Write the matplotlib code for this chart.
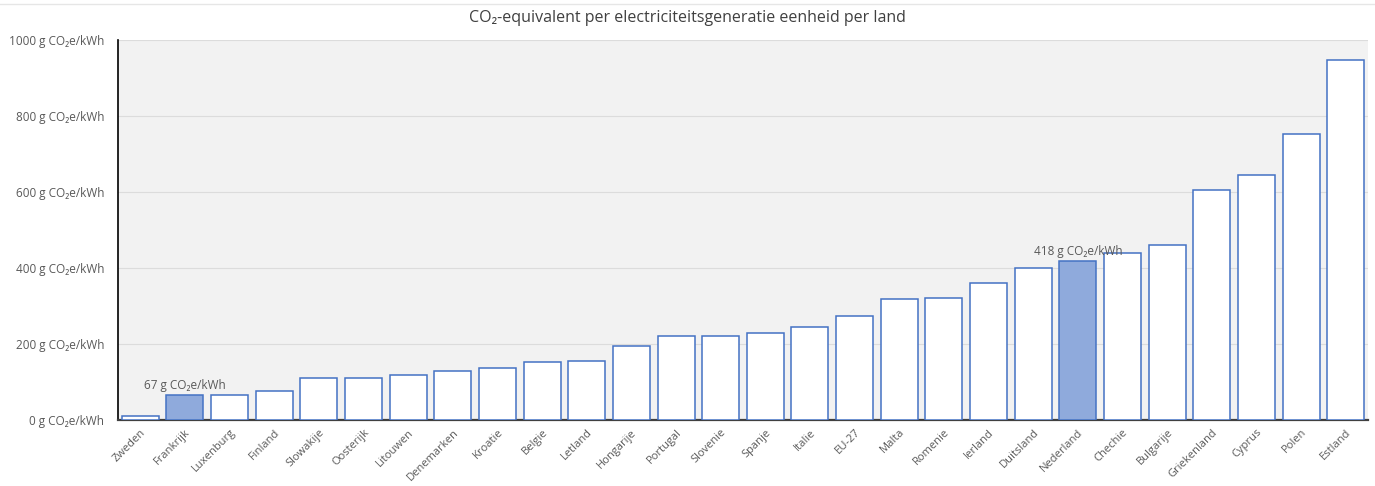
import matplotlib.pyplot as plt
import numpy as np

plt.rcParams['font.family'] = ['Open Sans', 'DejaVu Sans']

landen = ["Zweden", "Frankrijk", "Luxenburg", "Finland", "Slowakije", "Oosterijk",
          "Litouwen", "Denemarken", "Kroatie", "Belgie", "Letland", "Hongarije",
          "Portugal", "Slovenie", "Spanje", "Italie", "EU-27", "Malta", "Romenie",
          "Ierland", "Duitsland", "Nederland", "Chechie", "Bulgarije", "Griekenland",
          "Cyprus", "Polen", "Estland"]
co2 = [10, 67, 65, 77, 110, 110, 119, 129, 137, 153, 155, 195, 221, 221, 229,
       245, 274, 318, 321, 360, 400, 418, 440, 461, 605, 645, 753, 947]
gemarkeerd = ["Frankrijk", "Nederland"]
yticks = [0, 200, 400, 600, 800, 1000]

fig = plt.figure(figsize=(13.75, 4.86), dpi=100)
ax = fig.add_axes([118/1375, 1 - 420/486, 1250/1375, 380/486])
ax.set_facecolor('#f2f2f2')

x = np.arange(len(landen))
kleuren = ['#8faadc' if l in gemarkeerd else 'white' for l in landen]
ax.bar(x, co2, width=0.83, color=kleuren, edgecolor='#4472c4', linewidth=1.1, zorder=3)

# waarde boven de gemarkeerde balken
for l in gemarkeerd:
    i = landen.index(l)
    ax.text(i, co2[i] + 8, f"{co2[i]} g CO\u2082e/kWh", ha='center', va='bottom',
            fontsize=8.5, color='#595959', zorder=4)

ax.set_xlim(-0.5, len(landen) - 0.5)
ax.set_ylim(0, 1000)
ax.set_yticks(yticks)
ax.set_yticklabels([f"{v} g CO\u2082e/kWh" for v in yticks], fontsize=8.5, color='#595959')
ax.set_xticks(x)
ax.set_xticklabels(landen, rotation=45, ha='right', rotation_mode='anchor',
                   fontsize=8, color='#595959')
ax.tick_params(axis='y', length=0, pad=10)
ax.tick_params(axis='x', length=0, pad=5)
ax.grid(axis='y', color='#dcdcdc', linewidth=0.8, zorder=0)

for s in ['top', 'right']:
    ax.spines[s].set_visible(False)
ax.spines['left'].set_color('black')
ax.spines['left'].set_linewidth(1.2)
ax.spines['bottom'].set_color('#404040')
ax.spines['bottom'].set_linewidth(1.6)

fig.text(0.5, 1 - 18/486, "CO\u2082-equivalent per electriciteitsgeneratie eenheid per land",
         ha='center', va='center', fontsize=11.5, color='#404040')
fig.add_artist(plt.Line2D([0, 1], [1 - 4/486, 1 - 4/486], color='#e6e6e6', linewidth=1))

fig.savefig('out.png', dpi=100)
